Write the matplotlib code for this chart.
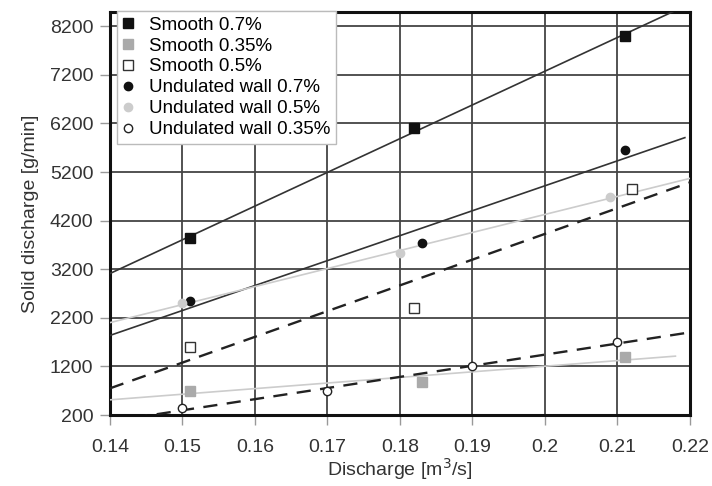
import numpy as np
import matplotlib
matplotlib.use("Agg")
import matplotlib.pyplot as plt

plt.rcParams['font.family'] = ['Liberation Sans', 'DejaVu Sans']

# data: discharge [m3/s] vs solid discharge [g/min]
smooth07_x = [0.151, 0.182, 0.211]
smooth07_y = [3840, 6100, 8000]
smooth035_x = [0.151, 0.183, 0.211]
smooth035_y = [700, 880, 1400]
smooth05_x = [0.151, 0.182, 0.212]
smooth05_y = [1610, 2410, 4850]
und07_x = [0.151, 0.183, 0.211]
und07_y = [2550, 3730, 5650]
und05_x = [0.150, 0.180, 0.209]
und05_y = [2500, 3530, 4690]
und035_x = [0.150, 0.170, 0.190, 0.210]
und035_y = [340, 700, 1200, 1700]

xticks = [0.14, 0.15, 0.16, 0.17, 0.18, 0.19, 0.2, 0.21, 0.22]
xticklabels = ["0.14", "0.15", "0.16", "0.17", "0.18", "0.19", "0.2", "0.21", "0.22"]
yticks = [200, 1200, 2200, 3200, 4200, 5200, 6200, 7200, 8200]

series = [
    # label, x, y, marker, face, edge, line colour, line style, line end
    ("Smooth 0.7%", smooth07_x, smooth07_y, "s", "#111111", "#111111", "#333333", "-", 0.22),
    ("Smooth 0.35%", smooth035_x, smooth035_y, "s", "#aaaaaa", "#aaaaaa", "#cccccc", "-", 0.218),
    ("Smooth 0.5%", smooth05_x, smooth05_y, "s", "white", "#333333", "#222222", "--", 0.22),
    ("Undulated wall 0.7%", und07_x, und07_y, "o", "#111111", "#111111", "#333333", "-", 0.2193),
    ("Undulated wall 0.5%", und05_x, und05_y, "o", "#cccccc", "#cccccc", "#cccccc", "-", 0.22),
    ("Undulated wall 0.35%", und035_x, und035_y, "o", "white", "#222222", "#222222", "--", 0.22),
]

fig = plt.figure(figsize=(7.12, 4.86), dpi=100)
ax = fig.add_axes([0.1545, 0.146, 0.8145, 0.829])

for label, x, y, mk, fc, ec, lc, ls, xend in series:
    k, b = np.polyfit(x, y, 1)
    xx = np.array([0.14, xend])
    if ls == "--":
        ax.plot(xx, k * xx + b, color=lc, ls=ls, lw=1.7, dashes=(6, 4), zorder=3)
    else:
        ax.plot(xx, k * xx + b, color=lc, ls=ls, lw=1.2, zorder=3)

for label, x, y, mk, fc, ec, lc, ls, xend in series:
    ms = 6.5 if mk == "s" else 6
    ax.plot(x, y, ls="none", marker=mk, ms=ms, mfc=fc, mec=ec, mew=1.0,
            label=label, zorder=4)

ax.set_xlim(0.14, 0.22)
ax.set_ylim(200, 8490)
ax.set_xticks(xticks)
ax.set_xticklabels(xticklabels)
ax.set_yticks(yticks)
ax.grid(True, color="#444444", lw=1.3, zorder=1)
ax.set_axisbelow(True)
for sp in ax.spines.values():
    sp.set_linewidth(2.2)
    sp.set_color("#111111")
ax.tick_params(length=7, width=1, color="#999999", labelsize=14,
               labelcolor="#333333", pad=5)
ax.tick_params(axis="x", pad=10)

ax.set_xlabel("Discharge [m$^3$/s]", fontsize=14, color="#333333", labelpad=0)
ax.set_ylabel("Solid discharge [g/min]", fontsize=14, color="#333333", labelpad=8)

leg = ax.legend(loc="upper left", bbox_to_anchor=(0.012, 1.003), fontsize=13.5,
                frameon=True, fancybox=False, edgecolor="#bbbbbb",
                labelspacing=0.2, handlelength=0.6, handletextpad=0.8,
                borderpad=0.3, borderaxespad=0, framealpha=1)
leg.get_frame().set_linewidth(1)
leg.set_zorder(5)

fig.savefig("out.png", dpi=100)
